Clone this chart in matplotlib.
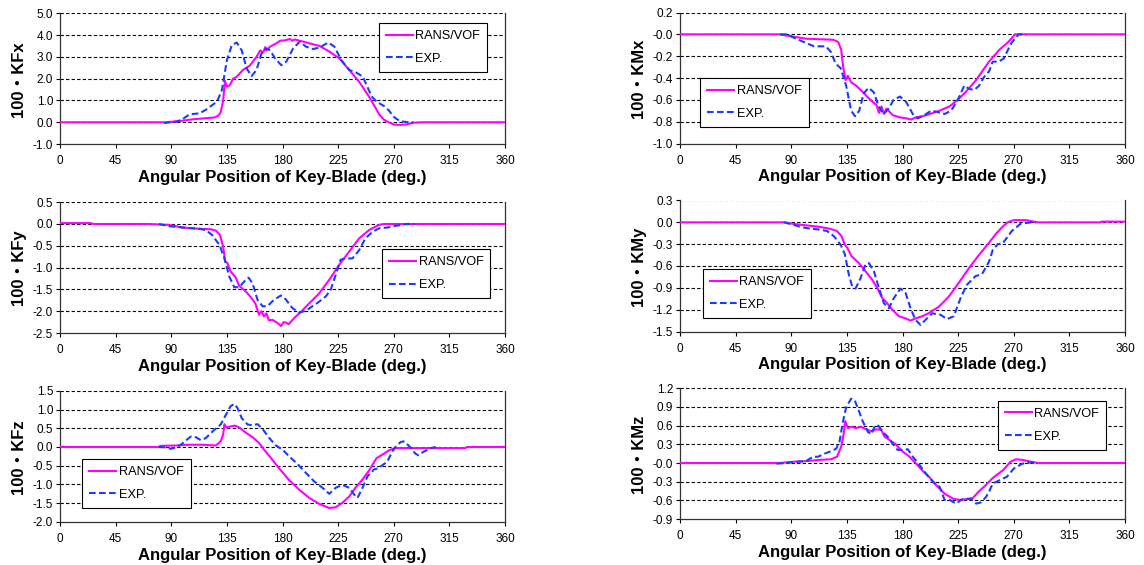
"""
plot.py — Force / moment coefficient comparison, RANS/VOF vs experiment.
"""

import numpy as np
import matplotlib
matplotlib.use("Agg")
import matplotlib.pyplot as plt
from matplotlib.ticker import FormatStrFormatter

plt.rcParams["font.family"] = ["Liberation Sans", "Noto Sans CJK JP", "DejaVu Sans"]

# ──────────────────────────────────────────────────────────────────────
# DATA  (angle in deg., value = 100 x coefficient)
# ──────────────────────────────────────────────────────────────────────

# --- KFx ---
kfx_cfd_deg = [0, 85, 97, 108, 116, 125, 128, 130, 132, 133.5, 135, 137.5, 140, 143, 148,
               153.5, 159, 162, 164.5, 166, 167, 170, 175, 178, 182, 186, 188, 190, 194,
               202, 210, 218, 226, 234, 242, 250, 258.5, 262, 266, 270, 275, 280, 286, 292, 360]
kfx_cfd = [0, 0.0, 0.06, 0.14, 0.18, 0.22, 0.3, 0.45, 1.0, 1.9, 1.63, 1.71, 2.0, 2.09, 2.4,
           2.6, 3.0, 3.3, 3.2, 3.45, 3.3, 3.47, 3.62, 3.74, 3.76, 3.82, 3.74, 3.8, 3.74,
           3.62, 3.5, 3.24, 2.93, 2.4, 1.86, 1.18, 0.34, 0.12, 0.0, -0.1, -0.12, -0.1, -0.02, 0.0, 0.0]
kfx_exp_deg = [84, 90, 94.6, 100, 105, 113, 118.7, 127, 131, 135, 139, 143, 147, 151, 155,
               159, 163, 167, 170, 174, 179, 183, 188.6, 194, 199, 204.7, 210, 217, 222,
               227.6, 234, 240, 245, 252, 256, 262, 266, 270, 275, 282, 286]
kfx_exp = [-0.03, 0.0, 0.03, 0.18, 0.37, 0.41, 0.6, 0.95, 1.48, 2.85, 3.54, 3.66, 3.3, 2.47, 2.12,
           2.4, 3.16, 3.39, 3.3, 2.93, 2.62, 2.78, 3.39, 3.7, 3.47, 3.36, 3.43, 3.66, 3.47,
           2.85, 2.4, 2.27, 2.09, 1.2, 0.95, 0.75, 0.55, 0.25, 0.05, 0.0, 0.0]

# --- KMx ---
kmx_cfd_deg = [0, 80, 91, 102, 113, 124, 128, 130.4, 132, 134, 135.7, 138.5, 142.5, 148, 153,
               159, 161, 163, 165, 167, 172, 177.6, 183, 187, 191, 196.4, 202, 210, 218,
               224.7, 231, 239.5, 245, 250, 258.5, 265.6, 271, 360]
kmx_cfd = [0, 0, -0.02, -0.04, -0.045, -0.05, -0.07, -0.14, -0.3, -0.42, -0.38, -0.44, -0.47, -0.53, -0.59,
           -0.65, -0.72, -0.66, -0.73, -0.68, -0.74, -0.76, -0.77, -0.78, -0.76, -0.75, -0.73, -0.7, -0.66,
           -0.6, -0.53, -0.42, -0.33, -0.25, -0.14, -0.07, 0.0, 0.0]
kmx_exp_deg = [81, 86.7, 92, 100, 108.5, 113.8, 118, 122, 126, 130, 134.4, 138.5, 141.6, 145,
               148.6, 152.6, 156.7, 160.7, 164.7, 168.8, 172.8, 178, 183, 188.3, 192.4, 197.8,
               203, 208, 214, 219.3, 224.7, 230, 234, 238, 242, 246, 250, 253, 258, 262, 268, 274, 280]
kmx_exp = [0, 0, -0.03, -0.07, -0.11, -0.11, -0.11, -0.16, -0.27, -0.31, -0.47, -0.7, -0.75, -0.7,
           -0.54, -0.49, -0.53, -0.66, -0.73, -0.68, -0.6, -0.57, -0.62, -0.73, -0.77, -0.74,
           -0.7, -0.71, -0.73, -0.7, -0.6, -0.47, -0.5, -0.51, -0.47, -0.39, -0.34, -0.25, -0.25, -0.22, -0.08, 0.0, 0.0]

# --- KFy ---
kfy_cfd_deg = [0, 25, 27, 72, 88, 99, 112.6, 122, 126, 129.4, 132, 133.7, 135.5, 138, 142, 145,
               150.4, 154.4, 158, 161, 163, 165, 167, 169, 172, 176, 178.7, 181, 182.7, 185,
               186.8, 190.8, 194.8, 201.6, 209.7, 217.8, 225.8, 234, 242, 250, 258, 262, 360]
kfy_cfd = [0.02, 0.02, 0.0, 0.0, -0.02, -0.08, -0.11, -0.12, -0.15, -0.25, -0.52, -0.86, -0.9, -1.09, -1.22, -1.42,
           -1.55, -1.68, -1.82, -2.08, -2.0, -2.12, -2.05, -2.21, -2.2, -2.27, -2.34, -2.25, -2.26, -2.3,
           -2.24, -2.12, -2.02, -1.82, -1.59, -1.28, -0.94, -0.63, -0.33, -0.14, -0.02, 0.0, 0.0]
kfy_exp_deg = [80, 88, 99, 112.6, 118, 123, 129, 133, 137, 141, 145, 149, 152.5, 155.8, 159.8,
               164, 168, 173, 178.7, 182.7, 188, 193.5, 199, 204, 209.7, 215, 219, 223, 227,
               231, 236.6, 242, 247, 252.8, 258, 265, 270, 280, 287]
kfy_exp = [0, -0.05, -0.08, -0.11, -0.14, -0.25, -0.48, -0.79, -1.21, -1.45, -1.45, -1.32, -1.23, -1.36, -1.74,
           -1.89, -1.88, -1.74, -1.64, -1.73, -1.93, -2.03, -1.99, -1.89, -1.78, -1.66, -1.51, -1.17, -0.82,
           -0.79, -0.79, -0.6, -0.33, -0.18, -0.1, -0.08, -0.05, 0.0, 0.0]

# --- KMy ---
kmy_cfd_deg = [0, 85, 91, 101.6, 112, 121.8, 127, 130.7, 133.4, 135.3, 139, 144.7, 150, 155.5,
               159.5, 163.6, 167.6, 171.7, 177, 182.5, 186.5, 190.5, 196, 201, 209.4, 217.5,
               225.6, 233.7, 241.8, 250, 256, 261, 265, 270, 280, 289, 340, 341, 360]
kmy_cfd = [0, 0, -0.02, -0.04, -0.06, -0.09, -0.12, -0.19, -0.31, -0.35, -0.47, -0.56, -0.67, -0.79,
           -0.9, -1.04, -1.11, -1.2, -1.29, -1.32, -1.35, -1.32, -1.29, -1.25, -1.16, -1.02,
           -0.83, -0.63, -0.45, -0.28, -0.15, -0.06, 0.0, 0.03, 0.03, 0.0, 0.0, 0.01, 0.01]
kmy_exp_deg = [84, 91, 99, 107, 113.7, 119, 124.5, 130, 133.4, 136.6, 139.3, 142, 146, 150, 152.8,
               156.8, 160.9, 164.9, 169, 173, 178.4, 182.5, 186.5, 190.5, 194.6, 198.6, 204,
               210.8, 216, 221.5, 227, 232, 239, 244.4, 250, 253, 257, 261, 265, 268.4, 275.5, 284, 288]
kmy_exp = [0, -0.03, -0.07, -0.09, -0.1, -0.12, -0.19, -0.31, -0.44, -0.72, -0.88, -0.91, -0.77, -0.58, -0.56,
           -0.67, -0.9, -1.11, -1.18, -1.04, -0.91, -0.97, -1.18, -1.34, -1.41, -1.34, -1.25,
           -1.27, -1.33, -1.29, -1.04, -0.86, -0.74, -0.71, -0.54, -0.38, -0.3, -0.29, -0.2, -0.12, -0.02, 0.0, 0.0]

# --- KFz ---
kfz_cfd_deg = [0, 80, 81, 93.8, 104.6, 115, 126, 130, 132, 133, 134.7, 138, 141.7, 145.5, 150,
               155.8, 161, 165, 170.6, 177, 185, 193.5, 201.6, 209.7, 217.8, 223, 228.5, 234,
               239, 244.7, 250, 256, 262, 266, 271, 328, 329, 360]
kfz_cfd = [0, 0, 0.03, 0.04, 0.06, 0.06, 0.04, 0.15, 0.33, 0.61, 0.52, 0.55, 0.57, 0.51, 0.39,
           0.26, 0.11, -0.07, -0.29, -0.56, -0.87, -1.14, -1.36, -1.52, -1.63, -1.61, -1.49, -1.32,
           -1.09, -0.87, -0.63, -0.3, -0.18, -0.09, -0.03, -0.03, 0.0, 0.0]
kfz_exp_deg = [80, 85.7, 89.7, 93.8, 97.8, 102, 106, 110, 114, 118, 122, 126, 130, 134.2, 138,
               141, 143.6, 147, 151.7, 155.8, 159.8, 163.9, 169.3, 174.6, 180, 185.4, 192, 198.9,
               205.6, 212.4, 217.8, 223, 228.5, 234, 238, 240.7, 244.7, 248.8, 254, 258, 260.6,
               264.6, 268.7, 271.4, 275.5, 278, 282, 287.6, 290, 294, 300, 304]
kfz_exp = [0, -0.01, -0.05, -0.01, 0.06, 0.18, 0.28, 0.26, 0.18, 0.24, 0.37, 0.49, 0.6, 0.86, 1.09,
           1.15, 1.04, 0.77, 0.6, 0.58, 0.61, 0.48, 0.24, 0.04, -0.07, -0.25, -0.45, -0.69,
           -0.92, -1.09, -1.25, -1.09, -1.01, -1.09, -1.27, -1.36, -1.09, -0.78, -0.6, -0.56, -0.49,
           -0.4, -0.13, 0.0, 0.13, 0.15, 0.04, -0.18, -0.22, -0.13, -0.03, 0.0]

# --- KMz ---
kmz_cfd_deg = [0, 80.6, 91.3, 102, 113, 122.3, 127, 130.4, 132.3, 133.7, 135.8, 138.5, 142.5,
               146.6, 150.6, 154.7, 158.7, 162.8, 165.5, 169.5, 175, 180.3, 185.7, 191, 196.5,
               201.9, 207, 214, 220.7, 226, 231.5, 236.9, 242, 246, 250, 253, 261.6, 267.4,
               271.6, 277, 284, 290, 360]
kmz_cfd = [0, 0, 0.02, 0.03, 0.05, 0.06, 0.1, 0.26, 0.45, 0.67, 0.56, 0.58, 0.56,
           0.58, 0.54, 0.51, 0.54, 0.53, 0.42, 0.37, 0.29, 0.18, 0.1, -0.01, -0.13,
           -0.23, -0.35, -0.49, -0.57, -0.59, -0.58, -0.56, -0.45, -0.38, -0.3, -0.24, -0.11, 0.02,
           0.06, 0.05, 0.02, 0.0, 0.0]
kmz_exp_deg = [78, 86, 94, 102, 107.5, 111.6, 117, 122.3, 126.4, 129, 131.8, 134.5, 138.5, 141.2,
               144.4, 148, 152, 154.7, 157.4, 160, 164, 168, 172, 176, 180.3, 184.3, 188.4, 193.8,
               199, 204.6, 210, 214, 218, 223.4, 227.5, 231.5, 235.5, 239.6, 243.6, 247.7, 250,
               253, 259, 264.5, 270, 277, 284, 288.5]
kmz_exp = [-0.01, 0.0, 0.02, 0.03, 0.1, 0.1, 0.15, 0.19, 0.23, 0.34, 0.66, 0.9, 1.03, 1.01,
           0.85, 0.66, 0.5, 0.46, 0.58, 0.61, 0.5, 0.42, 0.31, 0.21, 0.21, 0.22, 0.1, -0.03,
           -0.17, -0.3, -0.38, -0.59, -0.59, -0.65, -0.59, -0.57, -0.58, -0.65, -0.63, -0.54, -0.46,
           -0.33, -0.27, -0.22, -0.09, -0.01, 0.01, 0.0]

# axis labels / ranges
x_ticks = [0, 45, 90, 135, 180, 225, 270, 315, 360]
x_label = "Angular Position of Key-Blade (deg.)"
series_labels = ["RANS/VOF", "EXP."]

# ──────────────────────────────────────────────────────────────────────
# PLOTTING
# ──────────────────────────────────────────────────────────────────────

CFD_COLOR = "#ff00ff"
EXP_COLOR = "#1a3cff"
W, H = 1144, 565


def draw_panel(rect, cfd_deg, cfd, exp_deg, exp, ylabel, ylim, ystep, leg_xy):
    """Draw one coefficient panel; rect is (left, top, right, bottom) in pixels."""
    l, t, r, b = rect
    ax = fig.add_axes([l / W, 1 - b / H, (r - l) / W, (b - t) / H])

    ax.plot(cfd_deg, cfd, color=CFD_COLOR, lw=1.5, label=series_labels[0], zorder=3)
    ax.plot(exp_deg, exp, color=EXP_COLOR, lw=1.5, ls=(0, (3.2, 1.6)),
            label=series_labels[1], zorder=4)

    ax.set_xlim(0, 360)
    ax.set_xticks(x_ticks)
    ax.set_ylim(*ylim)
    yt = np.round(np.arange(ylim[0], ylim[1] + ystep / 2, ystep), 2)
    ax.set_yticks(yt)
    ax.yaxis.set_major_formatter(FormatStrFormatter("%.1f"))

    # dashed horizontal grid, top line drawn as a grid line too
    for y in yt[1:]:
        ax.axhline(y, color="black", lw=0.8, ls=(0, (3, 2)), zorder=1)
    ax.spines["top"].set_visible(False)
    for s in ("left", "right", "bottom"):
        ax.spines[s].set_color("#333333")
        ax.spines[s].set_linewidth(0.9)

    ax.tick_params(direction="out", length=3, width=0.8, labelsize=8.5, colors="black")
    ax.tick_params(axis="x", pad=5)
    ax.tick_params(axis="y", pad=2)
    ax.set_xlabel(x_label, fontsize=12, fontweight="bold", labelpad=2)
    ax.set_ylabel(ylabel, fontsize=12, fontweight="bold", labelpad=4.5)

    leg = ax.legend(loc="upper left", bbox_to_anchor=leg_xy, borderaxespad=0,
                    fontsize=9.2, frameon=True, fancybox=False, framealpha=1,
                    edgecolor="black", handlelength=2.1, handletextpad=0.2,
                    labelspacing=0.85, borderpad=0.55)
    leg.get_frame().set_linewidth(0.8)
    return ax


fig = plt.figure(figsize=(W / 100, H / 100), dpi=100, facecolor="white")

draw_panel((60, 13.3, 505, 144.1), kfx_cfd_deg, kfx_cfd, kfx_exp_deg, kfx_exp,
           "100・KFx", (-1.0, 5.0), 1.0, (0.717, 0.926))
draw_panel((680, 12.5, 1125, 143.5), kmx_cfd_deg, kmx_cfd, kmx_exp_deg, kmx_exp,
           "100・KMx", (-1.0, 0.2), 0.2, (0.046, 0.5))
draw_panel((60, 202.2, 505, 333), kfy_cfd_deg, kfy_cfd, kfy_exp_deg, kfy_exp,
           "100・KFy", (-2.5, 0.5), 0.5, (0.724, 0.64))
draw_panel((680, 200.5, 1125, 331.5), kmy_cfd_deg, kmy_cfd, kmy_exp_deg, kmy_exp,
           "100・KMy", (-1.5, 0.3), 0.3, (0.051, 0.477))
draw_panel((60, 390.8, 505, 521.9), kfz_cfd_deg, kfz_cfd, kfz_exp_deg, kfz_exp,
           "100・KFz", (-2.0, 1.5), 0.5, (0.05, 0.48))
draw_panel((680, 388.1, 1125, 519.2), kmz_cfd_deg, kmz_cfd, kmz_exp_deg, kmz_exp,
           "100・KMz", (-0.9, 1.2), 0.3, (0.714, 0.904))

fig.savefig("out.png", dpi=100, facecolor="white")
